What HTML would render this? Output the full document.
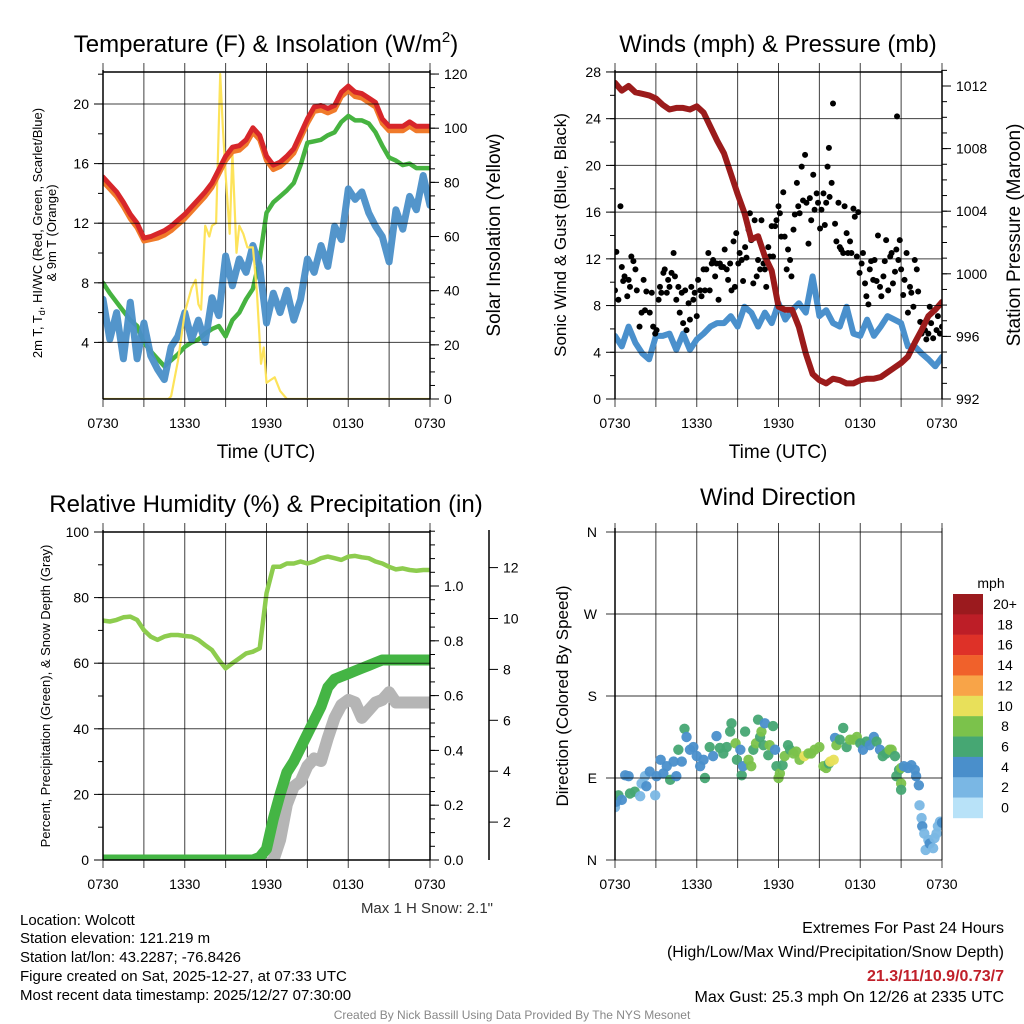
<!DOCTYPE html>
<html><head><meta charset="utf-8">
<style>
html,body{margin:0;padding:0;background:#fff;}
svg{display:block;font-family:"Liberation Sans",Arial,sans-serif;}
</style></head>
<body>
<svg id="fig" width="1024" height="1024" viewBox="0 0 1024 1024" xmlns="http://www.w3.org/2000/svg">
<rect width="1024" height="1024" fill="#fff"/>
<text x="266" y="52" font-size="24" text-anchor="middle">Temperature (F) &amp; Insolation (W/m<tspan font-size="15" dy="-10">2</tspan><tspan dy="10">)</tspan></text>
<text x="778" y="52" font-size="24" text-anchor="middle">Winds (mph) &amp; Pressure (mb)</text>
<text x="266" y="512" font-size="24" text-anchor="middle">Relative Humidity (%) &amp; Precipitation (in)</text>
<text x="778" y="505" font-size="24" text-anchor="middle">Wind Direction</text>
<text transform="translate(42,233) rotate(-90)" font-size="13" text-anchor="middle">2m T, T<tspan font-size="9" dy="3">d</tspan><tspan dy="-3">, HI/WC (Red, Green, Scarlet/Blue)</tspan></text>
<text transform="translate(56,233) rotate(-90)" font-size="13" text-anchor="middle">&amp; 9m T (Orange)</text>
<text transform="translate(500,235) rotate(-90)" font-size="19" text-anchor="middle">Solar Insolation (Yellow)</text>
<text x="266" y="458" font-size="19" text-anchor="middle">Time (UTC)</text>
<text transform="translate(566,235) rotate(-90)" font-size="17" text-anchor="middle">Sonic Wind &amp; Gust (Blue, Black)</text>
<text transform="translate(1020,235) rotate(-90)" font-size="19" text-anchor="middle">Station Pressure (Maroon)</text>
<text x="778" y="458" font-size="19" text-anchor="middle">Time (UTC)</text>
<text transform="translate(50,696) rotate(-90)" font-size="13" text-anchor="middle">Percent, Precipitation (Green), &amp; Snow Depth (Gray)</text>
<text transform="translate(568,696) rotate(-90)" font-size="17" text-anchor="middle">Direction (Colored By Speed)</text>
<text x="493" y="913" font-size="15" text-anchor="end" fill="#333">Max 1 H Snow: 2.1"</text>
<g font-size="15" fill="#000">
<text x="20" y="925">Location: Wolcott</text>
<text x="20" y="943">Station elevation: 121.219 m</text>
<text x="20" y="962">Station lat/lon: 43.2287; -76.8426</text>
<text x="20" y="981">Figure created on Sat, 2025-12-27, at 07:33 UTC</text>
<text x="20" y="1000">Most recent data timestamp: 2025/12/27 07:30:00</text>
</g>
<g font-size="16" text-anchor="end">
<text x="1004" y="933">Extremes For Past 24 Hours</text>
<text x="1004" y="957">(High/Low/Max Wind/Precipitation/Snow Depth)</text>
<text x="1004" y="981" fill="#c0202a" font-weight="bold">21.3/11/10.9/0.73/7</text>
<text x="1004" y="1002">Max Gust: 25.3 mph On 12/26 at 2335 UTC</text>
</g>
<text x="512" y="1019" font-size="12" text-anchor="middle" fill="#888">Created By Nick Bassill Using Data Provided By The NYS Mesonet</text>
</svg>
<script>
const hours = [0,0.5,1,1.5,2,2.5,3,3.5,4,4.5,5,5.5,6,6.5,7,7.5,8,8.5,9,9.5,10,10.5,11,11.5,12,12.5,13,13.5,14,14.5,15,15.5,16,16.5,17,17.5,18,18.5,19,19.5,20,20.5,21,21.5,22,22.5,23,23.5,24];
const xTickLabels = ['0730','1330','1930','0130','0730'];
const tempRed = [15.1,14.6,14.1,13.4,12.6,12.0,11.0,11.1,11.3,11.5,11.8,12.2,12.6,13.1,13.6,14.1,14.7,15.6,16.5,17.1,17.2,17.6,18.4,17.9,16.5,15.9,16.1,16.5,17.0,18.0,19.0,19.8,19.9,19.7,19.9,20.8,21.2,20.8,20.7,20.4,20.1,19.0,18.5,18.5,18.5,18.8,18.5,18.5,18.5];
const tempOrange = [14.8,14.3,13.8,13.1,12.3,11.7,10.8,10.9,11.0,11.2,11.5,11.9,12.3,12.8,13.3,13.8,14.4,15.3,16.2,16.8,16.9,17.3,18.1,17.6,16.2,15.6,15.8,16.2,16.7,17.7,18.7,19.5,19.6,19.4,19.6,20.5,20.9,20.5,20.4,20.1,19.8,18.7,18.2,18.2,18.2,18.5,18.2,18.2,18.2];
const windChill = [8.0,7.3,6.7,6.1,5.5,5.1,4.0,3.4,2.9,2.4,2.8,3.2,3.7,4.0,4.2,4.6,4.9,5.1,4.4,5.5,6.0,6.9,7.6,9.6,12.7,13.4,13.8,14.2,14.7,15.9,17.4,17.5,17.6,17.9,18.1,18.8,19.2,18.9,18.9,18.7,18.1,17.2,16.4,16.2,15.9,16.0,15.7,15.7,15.7];
const dewpoint = [6.9,4.2,6.0,2.9,6.7,2.9,5.3,3.1,2.2,1.5,3.7,4.4,6.0,4.2,5.5,4.0,7.0,5.8,9.8,7.8,9.6,8.7,10.5,9.1,5.3,7.3,6.0,7.5,5.5,6.9,9.6,8.7,10.5,9.1,11.8,10.9,14.3,13.6,14.1,12.7,11.8,11.1,9.4,12.9,11.6,13.8,12.9,15.2,13.2];
const insolTimes = [0,4.8,5,5.5,6,6.5,6.8,7,7.2,7.5,7.8,8,8.3,8.6,8.8,9,9.3,9.5,9.8,10,10.3,10.6,11,11.3,11.6,11.8,12,12.3,12.6,13,13.5,24];
const insolVals = [0,0,1,14,32,41,44,35,33,64,60,64,65,120,100,83,61,91,54,64,61,56,56,39,13,19,6,7,8,3,0,0];
const windSpeed = [5.4,4.5,6.2,4.8,3.9,3.4,5.4,5.4,5.6,4.2,5.6,4.2,5.1,5.6,6.2,6.5,6.5,7.1,6.2,7.9,7.4,6.2,7.4,6.5,8.2,6.8,7.6,8.2,7.4,10.5,7.1,7.6,6.5,6.2,7.9,5.6,5.4,6.8,5.4,6.2,7.1,6.8,6.5,4.5,4.5,3.9,3.4,2.8,3.6];
const pressure = [1012.2,1011.7,1012.0,1011.6,1011.5,1011.4,1011.2,1010.8,1010.5,1010.6,1010.6,1010.5,1010.7,1010.3,1009.4,1008.5,1007.7,1006.4,1005.1,1003.9,1002.2,1002.4,1001.1,1000.2,997.9,997.7,997.7,996.6,994.9,993.6,993.2,993.0,993.3,993.2,993.0,993.0,993.2,993.3,993.3,993.4,993.7,994.0,994.3,994.7,995.6,996.4,997.3,997.7,998.2];
const gustTimes = [0,0.1,0.25,0.4,0.5,0.6,0.7,0.9,1,1.1,1.2,1.35,1.5,1.6,1.8,1.95,2.1,2.2,2.3,2.55,2.7,2.8,2.95,3.05,3.2,3.3,3.4,3.55,3.65,3.8,3.9,4.0,4.15,4.3,4.4,4.5,4.65,4.75,4.9,5.0,5.15,5.25,5.4,5.5,5.6,5.75,5.85,6.0,6.1,6.25,6.35,6.5,6.6,6.7,6.85,6.95,7.1,7.2,7.35,7.45,7.6,7.7,7.8,7.95,8.05,8.2,8.3,8.45,8.55,8.7,8.8,8.9,9.05,9.15,9.3,9.4,9.55,9.65,9.8,9.9,10.0,10.15,10.25,10.4,10.5,10.65,10.75,10.9,11.0,11.1,11.25,11.35,11.5,11.6,11.75,11.85,12.0,12.1,12.2,12.35,12.45,12.6,12.7,12.85,12.95,13.1,13.2,13.35,13.45,13.55,13.7,13.8,13.95,14.05,14.2,14.3,14.4,14.55,14.65,14.8,14.9,15.05,15.15,15.3,15.4,15.5,15.6,15.7,15.75,15.9,16.0,16.15,16.25,16.4,16.5,16.6,16.75,16.85,17.0,17.1,17.25,17.35,17.5,17.6,17.75,17.85,17.95,18.1,18.2,18.35,18.45,18.6,18.7,18.8,18.95,19.05,19.2,19.3,19.45,19.55,19.7,19.8,19.9,20.05,20.2,20.3,20.4,20.55,20.65,20.7,20.8,20.9,21.0,21.15,21.25,21.4,21.5,21.65,21.75,21.9,22.0,22.15,22.25,22.4,22.5,22.6,22.75,22.85,23.0,23.1,23.2,23.35,23.45,23.6,23.7,23.85,24.0];
const gustVals = [9.3,12.6,8.5,16.5,11.3,10.1,10.5,8.8,10.2,9.6,12.2,11.8,11.1,9.3,6.2,7.4,10.2,7.6,9.2,7.4,9.1,6.2,5.6,5.9,8.5,9.6,9.1,10.8,11.1,9.1,10.2,9.6,10.8,12.5,10.5,8.5,9.6,7.4,9.1,6.5,9.3,5.9,8.2,6.8,9.6,8.5,9.1,7.1,10.2,9.3,8.8,11.1,9.3,11.1,12.5,9.3,11.6,11.9,10.5,11.6,8.5,11.6,11.3,11.3,12.8,11.1,10.2,11.6,9.3,13.5,9.6,14.2,11.6,12.5,11.9,10.1,13.0,12.1,14.5,15.9,13.6,9.9,15.3,10.5,11.9,11.1,15.3,11.6,11.1,9.6,13.0,12.2,14.8,12.2,14.8,15.3,16.5,15.9,13.9,17.7,13.9,11.1,12.8,11.9,10.5,14.5,15.8,18.5,16.5,15.9,19.9,17.0,20.9,16.8,13.3,17.2,15.3,19.2,16.2,17.6,16.8,14.6,16.2,17.6,14.9,16.8,19.9,21.5,17.3,18.5,25.3,15.0,13.5,16.8,13.0,12.8,12.5,16.5,14.2,12.5,13.5,12.5,16.3,15.6,12.2,16.0,10.8,11.6,12.5,9.9,8.8,8.1,11.1,11.8,10.2,11.9,10.1,14.0,9.6,8.8,10.5,11.8,13.6,9.3,12.2,12.5,9.9,10.9,12.8,24.2,11.9,13.6,11.1,8.9,10.2,12.5,7.4,9.6,9.1,7.9,11.9,11.1,9.2,6.6,5.6,6.5,5.9,5.1,5.6,7.9,6.5,5.2,7.6,5.9,7.1,5.6,6.2];
const rh = [73.0,72.7,73.2,74.0,74.2,73.2,70.1,68.1,67.1,68.1,68.6,68.6,68.3,68.1,67.1,65.5,64.0,61.0,58.4,60.0,61.5,63.0,63.5,64.5,81.3,89.4,89.4,90.4,90.4,91.0,90.4,91.0,92.0,92.5,92.0,91.5,92.5,92.7,92.3,92.0,91.0,90.4,89.4,88.6,88.9,88.4,88.2,88.4,88.4];
const precip = [0,0,0,0,0,0,0,0,0,0,0,0,0,0,0,0,0,0,0,0,0,0,0,0.01,0.04,0.15,0.24,0.32,0.36,0.41,0.46,0.51,0.56,0.63,0.66,0.67,0.68,0.69,0.70,0.71,0.72,0.73,0.73,0.73,0.73,0.73,0.73,0.73,0.73];
const snowDepth = [0,0,0,0,0,0,0,0,0,0,0,0,0,0,0,0,0,0,0,0,0,0,0,0,0.3,0.5,1.3,2.7,3.4,3.6,4.2,4.5,4.4,5.3,6.1,6.6,6.8,6.7,6.1,6.4,6.7,6.8,7.1,6.7,6.7,6.7,6.7,6.7,6.7];
const dirTimes = [0,0.1,0.25,0.5,0.75,1.0,1.1,1.45,1.85,1.95,2.2,2.3,2.55,2.95,3.05,3.35,3.55,3.8,4.05,4.3,4.5,4.65,4.9,5.1,5.25,5.5,5.75,6.0,6.25,6.5,6.6,6.95,7.2,7.45,7.7,7.95,8.2,8.45,8.55,8.85,8.95,9.2,9.3,9.4,9.55,9.8,10.0,10.15,10.35,10.5,10.65,10.75,10.9,11.0,11.25,11.35,11.6,11.75,11.85,12.0,12.1,12.3,12.45,12.7,12.85,13.1,13.3,13.55,13.9,14.2,14.4,14.65,15.0,15.3,15.5,15.7,15.8,16.05,16.15,16.25,16.5,16.75,17.0,17.25,17.5,17.75,18.0,18.2,18.45,18.7,19.0,19.2,19.45,19.65,19.9,20.15,20.3,20.55,20.65,20.85,21.0,21.0,21.0,21.2,21.5,21.75,22.0,22.1,22.3,22.35,22.5,22.55,22.7,22.8,23.0,23.1,23.35,23.45,23.6,23.7,23.85,24.0];
const dirVals = [58,64,71,66,93,92,73,75,70,84,92,81,97,71,92,110,95,103,88,108,92,121,108,144,135,121,124,114,103,110,90,124,114,136,123,117,124,141,150,128,110,121,93,103,141,110,103,121,128,154,135,141,126,150,115,126,147,121,103,90,95,104,114,126,121,117,119,110,114,117,117,121,124,103,101,106,108,110,134,126,132,145,124,132,132,135,128,121,130,126,135,130,121,114,117,121,121,114,92,99,101,84,77,103,101,104,99,92,82,60,46,37,29,11,22,18,13,24,29,37,42,41];
const dirSpeeds = [3,5,6,4,4,4,7,6,3,3,3,4,4,3,4,4,4,4,6,4,4,6,4,6,4,4,4,4,4,4,6,6,4,4,6,6,6,6,6,8,6,4,6,4,6,8,8,6,8,6,6,8,6,4,6,8,6,4,6,8,8,6,8,6,6,8,8,8,10,8,8,8,8,8,8,6,10,10,4,8,6,6,6,8,8,8,6,4,6,4,4,6,4,6,6,8,8,6,6,6,8,8,6,4,4,4,4,4,4,2,2,4,2,2,2,4,2,2,2,2,2,4];
const speedBinLabels = ['20+','18','16','14','12','10','8','6','4','2','0'];

const NS='http://www.w3.org/2000/svg';
const svg=document.getElementById('fig');
function mk(tag, attrs, parent){
  const e=document.createElementNS(NS,tag);
  for(const k in attrs) e.setAttribute(k,attrs[k]);
  (parent||svg).appendChild(e);
  return e;
}
function txt(parent,x,y,s,size,anchor){
  const t=mk('text',{x:x,y:y,'font-size':size,'text-anchor':anchor},parent);
  t.textContent=s;
  return t;
}
const speedColors=['#b8e2f8','#7ab7e4','#4a8fcb','#46a773','#7bc24b','#e8e05a','#f8a448','#f0612b','#de3128','#bd1e27','#9b1a1e'];

function makePanel(name,x0,x1,y0,y1){
  const g=mk('g',{});
  
  
  const id='clip-'+name;
  const cp=mk('clipPath',{id:id},g);
  mk('rect',{x:x0,y:y0,width:x1-x0,height:y1-y0},cp);
  const sx=t=>x0+t*(x1-x0)/24;
  for(let h=0;h<=24;h+=3){
    const l=mk('line',{x1:sx(h),x2:sx(h),y1:y0-9,y2:y1+8,stroke:'#000','stroke-width':1,'stroke-opacity':0.75},g);
    
    
  }
  for(let i=0;i<xTickLabels.length;i++){
    const t=txt(g,sx(i*6),y1+29,xTickLabels[i],14,'middle');
    
    
  }
  const plot=mk('g',{'clip-path':'url(#'+id+')'},g);
  
  
  return {g:g,plot:plot,sx:sx,x0:x0,x1:x1,y0:y0,y1:y1};
}
function yAxis(P,side,scale,major,minor,lo,hi,fmt,hgrid,xpos,name,labelHi){
  const g=P.g;
  const x = xpos!==undefined ? xpos : (side==='left'?P.x0:P.x1);
  const dir = side==='left'?-1:1;
  const lh = labelHi!==undefined ? labelHi : hi;
  const ax=mk('line',{x1:x,x2:x,y1:P.y0-2,y2:P.y1,stroke:'#000','stroke-width':1.5},g);
  
  
  if(minor){
    for(let v=lo; v<=hi+1e-9; v+=minor){
      const y=scale(v); if(y<P.y0-3||y>P.y1+1) continue;
      mk('line',{x1:x,x2:x+dir*5,y1:y,y2:y,stroke:'#000','stroke-width':1},g);
    }
  }
  for(let v=lo; v<=lh+1e-9; v+=major){
    const y=scale(v); if(y<P.y0-3||y>P.y1+1) continue;
    mk('line',{x1:x,x2:x+dir*9,y1:y,y2:y,stroke:'#000','stroke-width':1},g);
    if(hgrid){
      const gl=mk('line',{x1:P.x0,x2:P.x1,y1:y,y2:y,stroke:'#000','stroke-width':1,'stroke-opacity':0.75},g);
      
      
    }
    const t=txt(g, x+dir*14, y+5, fmt(v), 14, side==='left'?'end':'start');
    
    
  }
}
function path(P,xs,ys,sy,stroke,w,name,op){
  let d='';
  for(let i=0;i<xs.length;i++) d+=(i?'L':'M')+P.sx(xs[i]).toFixed(1)+','+sy(ys[i]).toFixed(1);
  const p=mk('path',{d:d,fill:'none',stroke:stroke,'stroke-width':w,'stroke-linejoin':'round','stroke-linecap':'round','stroke-opacity':op||1},P.plot);
  
  
  return p;
}

const P1=makePanel('temperature-panel',103,430,72,399);
const yT=v=>402-v*14.9;
const yI=v=>399-v*2.708;
yAxis(P1,'left',yT,4,2,4,22,v=>String(v),true,undefined,'temperature',20);
yAxis(P1,'right',yI,20,5,0,120,v=>String(v),false,undefined,'insolation');
mk('line',{x1:103,x2:430,y1:72,y2:72,stroke:'#000','stroke-width':1.5},P1.g);
mk('line',{x1:103,x2:430,y1:399,y2:399,stroke:'#000','stroke-width':1.5},P1.g);
path(P1,hours,windChill,yT,'#46b340',4.5,'wind-chill-line');
path(P1,hours,dewpoint,yT,'#4a8fc8',7,'dewpoint-line',0.95);
path(P1,insolTimes,insolVals,yI,'#fde35a',2.2,'insolation-line');
path(P1,hours,tempOrange,yT,'#f07a2a',5,'9m-temperature-line');
path(P1,hours,tempRed,yT,'#d7262a',5,'2m-temperature-line');

const P2=makePanel('winds-panel',615,942,72,399);
const yW=v=>399-v*11.68;
const yP=v=>399-(v-992)*15.65;
yAxis(P2,'left',yW,4,2,0,28,v=>String(v),true,undefined,'wind');
yAxis(P2,'right',yP,4,1,992,1013,v=>String(v),false,undefined,'pressure');
mk('line',{x1:615,x2:942,y1:72,y2:72,stroke:'#000','stroke-width':1.5},P2.g);
path(P2,hours,windSpeed,yW,'#4a90cc',6,'wind-speed-line');
for(let i=0;i<gustTimes.length;i++){
  const c=mk('circle',{cx:P2.sx(gustTimes[i]),cy:yW(gustVals[i]),r:3,fill:'#000'},P2.plot);
  
  
}
path(P2,hours,pressure,yP,'#9b1b1b',6,'pressure-line');

const P3=makePanel('humidity-panel',103,430,532,860);
const yRH=v=>860-v*3.28;
const yPr=v=>860-v*274;
const ySn=v=>873-v*25.45;
yAxis(P3,'left',yRH,20,10,0,100,v=>String(v),true,undefined,'humidity');
yAxis(P3,'right',yPr,0.2,0.05,0,1.2,v=>v.toFixed(1),false,undefined,'precipitation',1.0);
yAxis(P3,'right',ySn,2,0,2,12,v=>String(v),false,489,'snow-depth');
mk('line',{x1:103,x2:430,y1:532,y2:532,stroke:'#000','stroke-width':1.5},P3.g);
mk('line',{x1:103,x2:430,y1:860,y2:860,stroke:'#000','stroke-width':1.5},P3.g);
path(P3,hours,snowDepth,ySn,'#b5b5b5',12,'snow-depth-line');
path(P3,hours,precip,yPr,'#44b544',11,'precipitation-line');
path(P3,hours,rh,yRH,'#8dcc4e',4.5,'relative-humidity-line');

const P4=makePanel('wind-direction-panel',615,942,532,860);
const yD=v=>860-v*0.9111;
const dirLabels=['N','E','S','W','N'];
mk('line',{x1:615,x2:615,y1:528,y2:860,stroke:'#000','stroke-width':1.5},P4.g);
mk('line',{x1:942,x2:942,y1:528,y2:860,stroke:'#000','stroke-width':1},P4.g);
for(let i=0;i<dirLabels.length;i++){
  const y=yD(i*90);
  mk('line',{x1:606,x2:942,y1:y,y2:y,stroke:'#000','stroke-width':1,'stroke-opacity':0.8},P4.g);
  const t=txt(P4.g,597,y+5,dirLabels[i],14,'end');
  
  
}
for(let i=0;i<dirTimes.length;i++){
  const bin=Math.min(10,Math.floor((dirSpeeds[i]+0.5)/2));
  const c=mk('circle',{cx:P4.sx(dirTimes[i]),cy:yD(dirVals[i]),r:5.2,fill:speedColors[bin],'fill-opacity':0.95},P4.plot);
  
  
}
const cb=mk('g',{});


const ct=txt(cb,991,588,'mph',14,'middle');


for(let i=0;i<speedBinLabels.length;i++){
  const y=594+i*20.36;
  const r=mk('rect',{x:953,y:y,width:30,height:20.6,fill:speedColors[10-i]},cb);
  
  
  const t=txt(cb,1005,y+15,speedBinLabels[i],14,'middle');
  
  
}
</script>
</body></html>
